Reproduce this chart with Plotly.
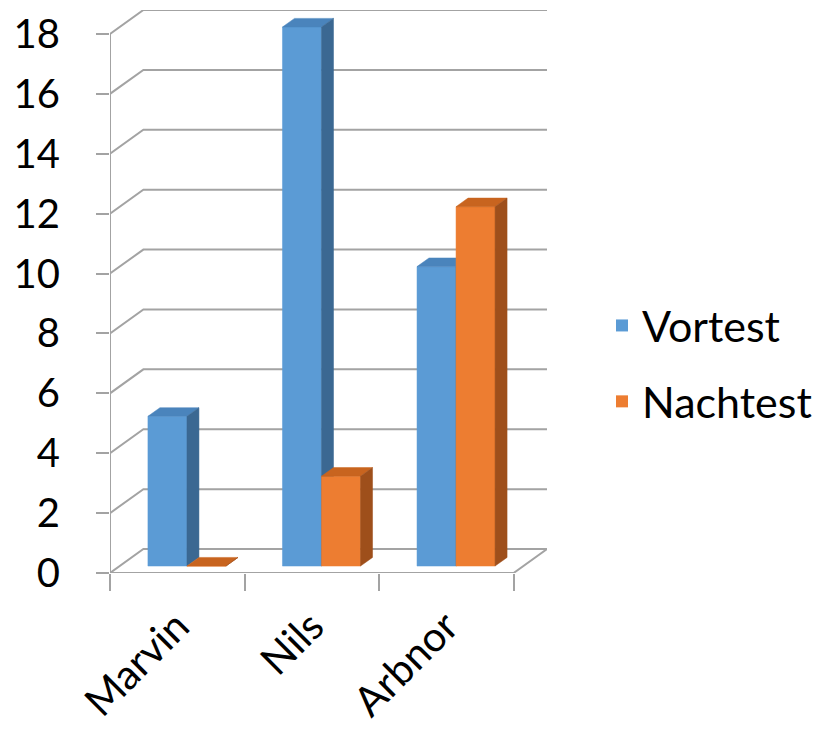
import plotly.graph_objects as go

# ---- data ----
categories = ["Marvin", "Nils", "Arbnor"]
series_names = ["Vortest", "Nachtest"]
vortest = [5, 18, 10]
nachtest = [0, 3, 12]
y_ticks = list(range(0, 19, 2))

# ---- style / pseudo-3D geometry (in axis units) ----
DX, DY = 0.248, 0.80          # full depth offset of the back wall
F0, F1 = 0.29, 0.65           # bar front / back depth fraction
W = 0.29                      # bar width
OFFS = [-0.145, 0.145]
FRONT = ["#5B9BD5", "#ED7D31"]
TOP = ["#4A84BC", "#C8641F"]
SIDE = ["#3B6892", "#9E4F1B"]
GRID = "#A3A3A3"
FONT = "Lato"

XMIN, XMAX = -0.5, len(categories) - 0.5 + DX
YMAX = max(y_ticks) + DY

fig = go.Figure()

# back wall + floor + left edge
gx, gy = [], []
for v in y_ticks[1:]:
    gx += [XMIN, XMIN + DX, XMAX, None]
    gy += [v, v + DY, v + DY, None]
n = len(categories) - 0.5
gx += [XMIN, n, n + DX, XMIN + DX, XMIN, None, XMIN, XMIN]
gy += [0, 0, DY, DY, 0, None, 0, max(y_ticks)]
fig.add_trace(go.Scatter(x=gx, y=gy, mode="lines", line=dict(color=GRID, width=2),
                         hoverinfo="skip", showlegend=False, cliponaxis=False))


def poly(xs, ys, color):
    fig.add_trace(go.Scatter(x=xs + [xs[0]], y=ys + [ys[0]], mode="lines", fill="toself",
                             fillcolor=color, line=dict(color=color, width=0.5),
                             hoverinfo="skip", showlegend=False))


series = [vortest, nachtest]
for i, cat in enumerate(categories):
    for s, vals in enumerate(series):
        v = vals[i]
        xl = i + OFFS[s] - W / 2
        xr = i + OFFS[s] + W / 2
        # front
        poly([xl + F0 * DX, xr + F0 * DX, xr + F0 * DX, xl + F0 * DX],
             [F0 * DY, F0 * DY, v + F0 * DY, v + F0 * DY], FRONT[s])
        # top
        poly([xl + F0 * DX, xr + F0 * DX, xr + F1 * DX, xl + F1 * DX],
             [v + F0 * DY, v + F0 * DY, v + F1 * DY, v + F1 * DY], TOP[s])
        # side
        poly([xr + F0 * DX, xr + F1 * DX, xr + F1 * DX, xr + F0 * DX],
             [F0 * DY, F1 * DY, v + F1 * DY, v + F0 * DY], SIDE[s])

# legend entries
for s, name in enumerate(series_names):
    fig.add_trace(go.Scatter(x=[None], y=[None], mode="markers", name=name,
                             legendgroup=name,
                             marker=dict(symbol="square", size=16, color=FRONT[s])))

fig.update_layout(
    width=836, height=733,
    margin=dict(l=110, r=836 - 547, t=10, b=733 - 573, autoexpand=False),
    plot_bgcolor="white", paper_bgcolor="white",
    font=dict(family=FONT, size=40, color="black"),
    legend=dict(xref="container", yref="container", x=602 / 836, y=1 - 291 / 733,
                xanchor="left", yanchor="top", tracegroupgap=17,
                font=dict(size=43), itemsizing="constant"),
    xaxis=dict(range=[XMIN, XMAX], tickvals=list(range(len(categories))),
               ticktext=categories, tickangle=-45, ticks="outside", ticklen=0,
               showgrid=False, zeroline=False, showline=False, automargin=False,
               ticklabelstandoff=12, tickfont=dict(size=41),
               minor=dict(tickvals=[k - 0.5 for k in range(len(categories) + 1)],
                          ticks="outside", ticklen=17, tickcolor=GRID, tickwidth=2,
                          showgrid=False)),
    yaxis=dict(range=[0, YMAX], tickvals=y_ticks, ticks="outside", ticklen=13,
               tickcolor=GRID, tickwidth=2, showgrid=False, zeroline=False,
               showline=False, ticklabelstandoff=28, automargin=False),
)

fig.write_html("out.html")
